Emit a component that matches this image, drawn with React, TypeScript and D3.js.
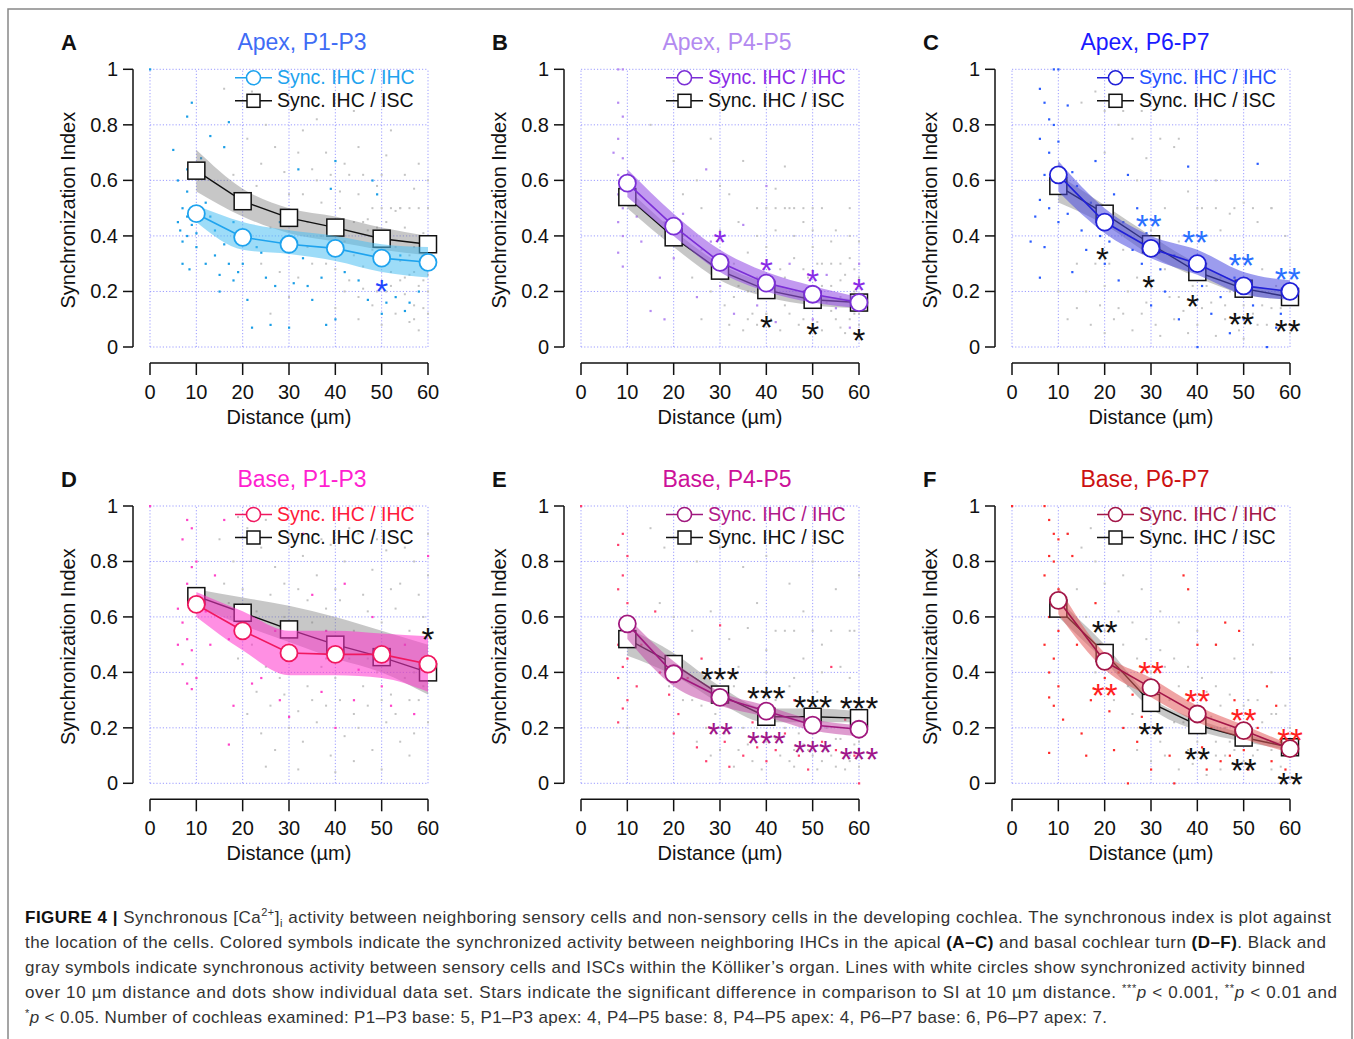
import React from "react";
import * as d3 from "d3";

const distances = [10, 20, 30, 40, 50, 60];
const xTicks = [0, 10, 20, 30, 40, 50, 60];
const yTicks = [0, 0.2, 0.4, 0.6, 0.8, 1];
const yTickLabels = ["0", "0.2", "0.4", "0.6", "0.8", "1"];

const panelLetters = ["A", "B", "C", "D", "E", "F"];
const panelTitles = ["Apex, P1-P3", "Apex, P4-P5", "Apex, P6-P7", "Base, P1-P3", "Base, P4-P5", "Base, P6-P7"];
const legendLabels = ["Sync. IHC / IHC", "Sync. IHC / ISC"];

// Panel A
const A_ihc = [0.48, 0.395, 0.37, 0.355, 0.32, 0.305];
const A_ihcLo = [0.45, 0.35, 0.335, 0.31, 0.27, 0.25];
const A_ihcHi = [0.51, 0.45, 0.42, 0.40, 0.37, 0.36];
const A_isc = [0.635, 0.525, 0.465, 0.43, 0.39, 0.37];
const A_iscLo = [0.56, 0.47, 0.41, 0.38, 0.35, 0.33];
const A_iscHi = [0.71, 0.57, 0.50, 0.47, 0.43, 0.40];
// Panel B
const B_ihc = [0.59, 0.435, 0.305, 0.23, 0.19, 0.16];
const B_ihcLo = [0.54, 0.40, 0.27, 0.20, 0.16, 0.14];
const B_ihcHi = [0.64, 0.48, 0.35, 0.27, 0.22, 0.18];
const B_isc = [0.54, 0.395, 0.275, 0.205, 0.17, 0.16];
const B_iscLo = [0.50, 0.36, 0.24, 0.18, 0.15, 0.14];
const B_iscHi = [0.57, 0.42, 0.30, 0.23, 0.19, 0.17];
// Panel C
const C_ihc = [0.62, 0.45, 0.355, 0.30, 0.22, 0.20];
const C_ihcLo = [0.56, 0.41, 0.32, 0.26, 0.19, 0.17];
const C_ihcHi = [0.67, 0.50, 0.40, 0.35, 0.27, 0.24];
const C_isc = [0.58, 0.48, 0.37, 0.27, 0.21, 0.18];
const C_iscLo = [0.52, 0.44, 0.33, 0.25, 0.19, 0.17];
const C_iscHi = [0.62, 0.51, 0.40, 0.30, 0.23, 0.20];
// Panel D
const D_ihc = [0.645, 0.55, 0.47, 0.465, 0.465, 0.43];
const D_ihcLo = [0.60, 0.48, 0.39, 0.39, 0.38, 0.33];
const D_ihcHi = [0.69, 0.62, 0.55, 0.55, 0.54, 0.53];
const D_isc = [0.675, 0.615, 0.555, 0.50, 0.455, 0.40];
const D_iscLo = [0.64, 0.57, 0.51, 0.45, 0.40, 0.32];
const D_iscHi = [0.70, 0.67, 0.64, 0.60, 0.55, 0.50];
// Panel E
const E_ihc = [0.575, 0.395, 0.31, 0.26, 0.21, 0.195];
const E_ihcLo = [0.52, 0.35, 0.28, 0.24, 0.19, 0.17];
const E_ihcHi = [0.60, 0.44, 0.33, 0.28, 0.23, 0.21];
const E_isc = [0.52, 0.43, 0.32, 0.24, 0.24, 0.235];
const E_iscLo = [0.46, 0.39, 0.29, 0.22, 0.22, 0.22];
const E_iscHi = [0.56, 0.47, 0.35, 0.27, 0.27, 0.26];
// Panel F
const F_ihc = [0.66, 0.44, 0.345, 0.25, 0.19, 0.125];
const F_ihcLo = [0.61, 0.41, 0.31, 0.22, 0.16, 0.11];
const F_ihcHi = [0.71, 0.47, 0.38, 0.28, 0.21, 0.14];
const F_isc = [0.63, 0.47, 0.29, 0.21, 0.165, 0.13];
const F_iscLo = [0.60, 0.44, 0.27, 0.19, 0.15, 0.12];
const F_iscHi = [0.66, 0.50, 0.31, 0.23, 0.18, 0.14];

// Individual data dots (distance, SI)
const A_dotsColor = "0,1;5,0.71;6,0.6;6,0.45;6.5,0.42;7,0.5;7,0.38;7,0.3;8,0.83;8,0.64;8,0.56;8,0.4;8,0.47;8.5,0.28;9,0.88;9,0.5;9,0.44;10,0.41;10,0.36;11,0.68;12,0.52;12,0.3;13,0.76;13,0.47;14,0.42;14,0.33;15,0.26;15,0.2;16,0.72;16,0.37;17,0.81;17,0.3;18,0.45;18,0.24;19,0.27;20,0.3;21,0.17;22,0.07;23,0.36;24,0.34;25,0.25;26,0.08;27,0.22;28,0.45;30,0.07;31,0.23;32,0.64;33,0.32;34,0.22;35,0.17;37,0.25;38,0.08;39,0.57;40,0.67;40,0.1;42,0.27;45,0.24;47,0.17;48,0.6;49,0.55;50,0.12;51,0.16;53,0.18;54,0.33;55,0.13;56,0.16;58,0.2";
const A_dotsGray = "16,0.93;22,0.92;25,0.8;27,0.72;30,0.55;33,0.78;36,0.6;38,0.7;41,0.5;43,0.62;45,0.72;47,0.46;49,0.58;51,0.69;53,0.49;55,0.43;57,0.57;59,0.41;60,0.5;18,0.62;20,0.5;23,0.58;26,0.43;29,0.48;31,0.38;34,0.45;37,0.4;39,0.35;42,0.38;44,0.33;46,0.29;48,0.35;50,0.3;52,0.27;54,0.31;56,0.26;58,0.22;60,0.3;24,0.3;28,0.27;32,0.25;35,0.3;40,0.28;43,0.24;46,0.21;49,0.2;52,0.22;55,0.19;57,0.15;59,0.14;60,0.2;45,0.1;50,0.08;53,0.12;56,0.09;58,0.06;47,0.42;51,0.45;54,0.5;57,0.36;59,0.33;36,0.82;44,0.85;52,0.78;40,0.14;30,0.18;26,0.12;48,0.5;50,0.5;52,0.5;54,0.5;56,0.5;58,0.5;44,0.45;46,0.45;55,0.25;57,0.27;59,0.24;21,0.75;24,0.66;29,0.63;32,0.7;35,0.64;39,0.62;42,0.66;46,0.62;50,0.62;55,0.62;58,0.66;60,0.6;33,0.55;37,0.52;41,0.56;45,0.55;49,0.43;53,0.36;56,0.33;60,0.26;45,0.18;48,0.15;51,0.2;54,0.24;57,0.1;60,0.12;42,0.2;38,0.3;34,0.36";
const B_dotsColor = "8,1;9,1;8,0.88;9,0.83;8,0.75;9,0.68;8,0.62;10,0.6;8,0.55;9,0.5;8,0.45;9,0.4;8,0.34;9,0.29;10,0.52;7,0.7;12,0.47;13,0.38;15,0.13;17,0.25;20,0.32;22,0.48;25,0.18;28,0.38;30,0.22;33,0.12;35,0.44;38,0.15;40,0.58;42,0.09;45,0.3;48,0.2;50,0.1;53,0.26;55,0.14;58,0.07;60,0.3;27,0.64;18,0.1";
const B_dotsGray = "15,0.8;20,0.67;25,0.6;28,0.75;32,0.55;35,0.67;38,0.5;42,0.57;45,0.5;48,0.45;52,0.5;55,0.42;58,0.5;60,0.38;18,0.45;22,0.4;26,0.35;30,0.42;33,0.3;36,0.34;40,0.36;43,0.28;46,0.32;49,0.25;51,0.3;54,0.22;57,0.26;59,0.2;60,0.25;24,0.25;28,0.2;31,0.15;34,0.22;37,0.12;39,0.18;41,0.1;44,0.15;47,0.08;50,0.14;52,0.06;55,0.1;57,0.05;59,0.12;60,0.08;26,0.1;32,0.08;35,0.06;42,0.2;48,0.18;53,0.16;56,0.18;46,0.4;50,0.36;38,0.25;30,0.3;22,0.55;44,0.65;58,0.32;40,0.5;42,0.5;44,0.5;46,0.5;48,0.5;50,0.5;52,0.3;54,0.3;56,0.3;36,0.1;38,0.08;40,0.12;43,0.06;45,0.12;48,0.1;51,0.09;54,0.13;56,0.07;58,0.1;60,0.12;33,0.18;36,0.2;40,0.22;44,0.25;48,0.28;52,0.22;56,0.24;59,0.28;38,0.4;42,0.42;50,0.42;54,0.38;58,0.4;30,0.58;34,0.45;26,0.5";
const C_dotsColor = "9,1;10,1;6,0.93;7,0.88;8,0.82;9,0.8;6,0.75;8,0.7;10,0.74;7,0.62;9,0.56;6,0.53;8,0.5;5,0.47;10,0.45;4,0.38;7,0.36;6,0.25;12,0.87;13,0.63;14,0.58;12,0.48;15,0.42;16,0.35;13,0.27;17,0.52;18,0.67;19,0.4;20,0.3;21,0.38;22,0.55;23,0.24;24,0.45;25,0.62;26,0.35;27,0.5;28,0.3;29,0.41;30,0.15;32,0.28;33,0.2;35,0.33;36,0.1;38,0.65;40,0;41,0.22;43,0.12;45,0.18;47,0.05;48,0.25;50,0.1;52,0.15;53,0.66;55,0;57,0.07;58,0.12";
const C_dotsGray = "10,0.2;12,0.1;15,0.88;18,0.92;20,0.7;23,0.8;26,0.75;29,0.68;32,0.6;35,0.72;38,0.56;41,0.5;44,0.6;47,0.48;50,0.52;53,0.45;56,0.5;59,0.4;60,0.35;16,0.2;19,0.15;22,0.1;25,0.2;28,0.12;31,0.08;34,0.18;37,0.13;40,0.08;43,0.16;46,0.1;49,0.06;52,0.12;55,0.08;58,0.14;60,0.05;24,0.35;30,0.42;36,0.38;42,0.3;48,0.33;54,0.28;57,0.22;45,0.25;39,0.22;33,0.28;27,0.25;21,0.3;18,0.5;50,0.2;14,0.3;20,0.85;24,0.85;28,0.85;32,0.75;36,0.75;40,0.5;44,0.5;48,0.5;52,0.5;56,0.5;46,0.15;50,0.15;54,0.15;17,0.08;20,0.05;23,0.14;26,0.06;29,0.16;32,0.04;35,0.1;38,0.05;41,0.14;44,0.04;47,0.2;50,0.03;53,0.08;56,0.14;59,0.08;20,0.22;24,0.12;30,0.24;36,0.18;42,0.22;48,0.12;54,0.2;58,0.2;14,0.14;18,0.3;27,0.6;33,0.5;45,0.42";
const D_dotsColor = "8,0.95;9,0.92;7,0.88;9,0.78;8,0.72;10,0.8;6,0.63;7,0.58;8,0.52;9,0.48;7,0.43;10,0.38;8,0.36;9,0.34;6,0.5;12,0.62;14,0.75;16,0.95;17,0.52;18,0.28;17,0.14;20,0.58;22,0.36;24,0.38;27,0.55;28,0.3;30,0.24;33,0.9;35,0.68;37,0.33;38,0.55;40,0.2;42,0.72;44,0.3;45,0.41;48,0.6;50,0.35;52,0.28;55,0.5;57,0.25;60,0.82;59,0.44;13,0.5;0,1";
const D_dotsGray = "15,0.88;18,0.8;21,0.92;24,0.85;27,0.78;30,0.9;33,0.82;36,0.75;39,0.86;42,0.8;45,0.9;48,0.77;51,0.84;54,0.72;57,0.8;60,0.75;17,0.65;20,0.7;23,0.62;26,0.68;29,0.6;32,0.7;35,0.58;38,0.63;41,0.66;44,0.55;47,0.62;50,0.58;53,0.63;56,0.55;59,0.6;19,0.45;22,0.5;25,0.42;28,0.38;31,0.45;34,0.35;37,0.42;40,0.38;43,0.45;46,0.35;49,0.4;52,0.32;55,0.38;58,0.3;21,0.25;24,0.18;27,0.12;30,0.2;33,0.15;36,0.22;39,0.1;42,0.17;45,0.2;48,0.12;51,0.22;54,0.15;57,0.18;60,0.22;32,0.05;44,0.08;50,0.05;56,0.1;16,0.72;19,0.96;25,0.95;29,0.72;34,0.66;37,0.88;40,0.7;43,0.92;46,0.68;49,0.88;52,0.7;55,0.85;58,0.68;60,0.9;23,0.33;26,0.28;29,0.32;32,0.26;35,0.3;38,0.28;41,0.3;44,0.25;47,0.28;50,0.3;53,0.25;56,0.3;59,0.35;47,0.45;51,0.48;57,0.4;38,0.45;25,0.06;40,0.04";
const E_dotsColor = "8,0.86;9,0.9;10,0.82;9,0.75;8,0.7;10,0.65;9,0.58;8,0.5;10,0.45;9,0.42;8,0.38;10,0.3;9,0.27;8,0.22;11,0.55;12,0.35;13,0.5;16,0.62;17,0.4;19,0.32;20,0.18;21,0.25;23,0.38;25,0.13;26,0.45;27,0.08;28,0.2;30,0.57;31,0.15;32,0.06;35,0.1;37,0.22;38,0.13;40,0.08;42,0.12;44,0.18;46,0.3;47,0.1;49,0.05;50,0.2;52,0.15;54,0.42;55,0.12;57,0.23;59,0.1;60,0;0,1";
const E_dotsGray = "10,0.2;15,0.92;18,0.85;22,0.9;25,0.8;30,0.85;35,0.78;40,0.82;45,0.72;50,0.8;55,0.7;60,0.75;17,0.65;20,0.6;24,0.55;28,0.62;32,0.52;36,0.56;40,0.48;44,0.55;48,0.45;52,0.5;56,0.42;59,0.55;19,0.35;22,0.3;26,0.28;29,0.25;33,0.35;36,0.28;39,0.33;42,0.3;45,0.35;48,0.3;51,0.33;54,0.3;57,0.28;60,0.3;25,0.15;28,0.1;31,0.18;34,0.12;37,0.08;40,0.15;43,0.1;46,0.06;49,0.12;52,0.08;55,0.06;58,0.1;60,0.15;44,0.2;50,0.18;56,0.16;38,0.2;42,0.55;46,0.55;50,0.55;54,0.55;58,0.55;46,0.12;50,0.1;54,0.1;58,0.08;33,0.06;36,0.14;39,0.05;42,0.16;45,0.08;48,0.14;51,0.05;53,0.12;55,0.16;57,0.05;59,0.14;60,0.06;35,0.2;41,0.22;47,0.18;53,0.2;59,0.18;30,0.12;27,0.2;24,0.3;21,0.45;28,0.38;34,0.42;40,0.4;46,0.38;52,0.4;58,0.38;38,0.65;48,0.62";
const F_dotsColor = "0,1;7,1;8,0.95;9,0.9;10,0.88;8,0.82;9,0.8;7,0.75;10,0.7;9,0.65;8,0.6;10,0.55;7,0.5;9,0.45;8,0.4;10,0.35;8,0.31;9,0.28;8,0.11;11,0.23;12,0.9;13,0.82;14,0.5;15,0.18;16,0.1;17,0.3;18,0.65;19,0.5;20,0.38;21,0.26;22,0.12;23,0.4;24,0.2;25,0;26,0.32;27,0.15;28,0.24;30,0.05;31,0.28;32,0.18;34,0.1;35,0;37,0.75;38,0.7;39,0.3;40,0.5;41,0.13;42,0.05;43,0.2;44,0.5;45,0.08;46,0.58;47,0.1;48,0.3;49,0.55;50,0.12;51,0.05;53,0.2;55,0.35;56,0.08;57,0.28;58,0.15;59,0.05;60,0.1";
const F_dotsGray = "12,0.9;15,0.85;18,0.8;21,0.88;24,0.75;28,0.7;32,0.62;36,0.58;40,0.55;44,0.5;48,0.45;52,0.5;56,0.4;60,0.45;16,0.6;20,0.55;24,0.5;27,0.45;30,0.4;33,0.42;36,0.35;39,0.3;42,0.33;45,0.28;48,0.25;51,0.3;54,0.22;57,0.25;60,0.2;22,0.3;26,0.25;29,0.2;32,0.15;35,0.22;38,0.12;41,0.18;44,0.1;47,0.15;50,0.08;53,0.12;56,0.05;59,0.1;30,0.08;36,0.05;42,0.03;18,0.4;34,0.3;46,0.2;52,0.18;58,0.15;40,0.15;44,0.15;48,0.12;52,0.1;56,0.12;46,0.1;14,0.7;17,0.92;20,0.72;23,0.62;26,0.58;29,0.52;32,0.48;35,0.45;38,0.42;41,0.38;44,0.35;47,0.32;50,0.28;53,0.3;56,0.25;59,0.28;25,0.35;31,0.28;37,0.22;43,0.24;49,0.18;55,0.15;58,0.06;33,0.1;39,0.07;45,0.05;27,0.12";

// Significance stars: [distance, y, text, series]
const A_stars = [[50, 0.225, "*", "ihc"]];
const B_stars = [[30, 0.40, "*", "ihc"], [40, 0.30, "*", "ihc"], [50, 0.26, "*", "ihc"], [60, 0.23, "*", "ihc"], [40, 0.095, "*", "isc"], [50, 0.07, "*", "isc"], [60, 0.05, "*", "isc"]];
const C_stars = [[29.5, 0.46, "**", "ihc"], [39.5, 0.40, "**", "ihc"], [49.5, 0.32, "**", "ihc"], [59.5, 0.27, "**", "ihc"], [19.5, 0.34, "*", "isc"], [29.5, 0.24, "*", "isc"], [39, 0.17, "*", "isc"], [49.5, 0.105, "**", "isc"], [59.5, 0.08, "**", "isc"]];
const D_stars = [[60, 0.545, "*", "isc"]];
const E_stars = [[30, 0.40, "***", "isc"], [40, 0.33, "***", "isc"], [50, 0.30, "***", "isc"], [60, 0.295, "***", "isc"], [30, 0.20, "**", "ihc"], [40, 0.17, "***", "ihc"], [50, 0.135, "***", "ihc"], [60, 0.11, "***", "ihc"]];
const F_stars = [[20, 0.57, "**", "isc"], [30, 0.20, "**", "isc"], [40, 0.11, "**", "isc"], [50, 0.07, "**", "isc"], [60, 0.02, "**", "isc"], [20, 0.34, "**", "ihc"], [30, 0.42, "**", "ihc"], [40, 0.32, "**", "ihc"], [50, 0.25, "**", "ihc"], [60, 0.18, "**", "ihc"]];

const panelData = [
  { ihc: A_ihc, ihcLo: A_ihcLo, ihcHi: A_ihcHi, isc: A_isc, iscLo: A_iscLo, iscHi: A_iscHi, dc: A_dotsColor, dg: A_dotsGray, stars: A_stars },
  { ihc: B_ihc, ihcLo: B_ihcLo, ihcHi: B_ihcHi, isc: B_isc, iscLo: B_iscLo, iscHi: B_iscHi, dc: B_dotsColor, dg: B_dotsGray, stars: B_stars },
  { ihc: C_ihc, ihcLo: C_ihcLo, ihcHi: C_ihcHi, isc: C_isc, iscLo: C_iscLo, iscHi: C_iscHi, dc: C_dotsColor, dg: C_dotsGray, stars: C_stars },
  { ihc: D_ihc, ihcLo: D_ihcLo, ihcHi: D_ihcHi, isc: D_isc, iscLo: D_iscLo, iscHi: D_iscHi, dc: D_dotsColor, dg: D_dotsGray, stars: D_stars },
  { ihc: E_ihc, ihcLo: E_ihcLo, ihcHi: E_ihcHi, isc: E_isc, iscLo: E_iscLo, iscHi: E_iscHi, dc: E_dotsColor, dg: E_dotsGray, stars: E_stars },
  { ihc: F_ihc, ihcLo: F_ihcLo, ihcHi: F_ihcHi, isc: F_isc, iscLo: F_iscLo, iscHi: F_iscHi, dc: F_dotsColor, dg: F_dotsGray, stars: F_stars },
];

const panelStyles = [
  { title: "#3f6cf5", legend: "#1ea3ee", line: "#1ea3ee", band: "#4cc0f3", bandOp: 0.55, dot: "#1a9ee6", star: "#1f45ff", titleDx: 152 },
  { title: "#b38af0", legend: "#8a2be6", line: "#7b2fd6", band: "#9a55e6", bandOp: 0.6, dot: "#b68af2", star: "#8a2be6", titleDx: 146 },
  { title: "#1a1aff", legend: "#2450ff", line: "#2020d8", band: "#4a4ae0", bandOp: 0.55, dot: "#2a5cff", star: "#2a70ff", titleDx: 133 },
  { title: "#ff1fd0", legend: "#ff1a3a", line: "#f01860", band: "#ff33cc", bandOp: 0.55, dot: "#ff44c8", star: "#111", titleDx: 152 },
  { title: "#cc1199", legend: "#b0188a", line: "#a0187e", band: "#c24aa8", bandOp: 0.55, dot: "#ff3f6e", star: "#a0168a", titleDx: 146 },
  { title: "#cc1111", legend: "#a31648", line: "#a31648", band: "#e45a5a", bandOp: 0.55, dot: "#ff2a2a", star: "#ff2020", titleDx: 133 },
];

const FONT = "'Liberation Sans', Arial, Helvetica, sans-serif";

function parsePts(s: string): [number, number][] {
  return s.split(";").map((p) => {
    const [a, b] = p.split(",");
    return [parseFloat(a), parseFloat(b)] as [number, number];
  });
}

function Panel({ idx }: { idx: number }) {
  const col = idx % 3;
  const row = Math.floor(idx / 3);
  const d = panelData[idx];
  const st = panelStyles[idx];
  const x0 = 150 + col * 431;
  const yTop = row === 0 ? 69.3 : 506;
  const yBot = row === 0 ? 347 : 783.3;
  const x = d3.scaleLinear().domain([0, 60]).range([x0, x0 + 278]);
  const y = d3.scaleLinear().domain([0, 1]).range([yBot, yTop]);

  const band = (lo: number[], hi: number[]) =>
    d3.area<number>().x((_, i) => x(distances[i])).y0((_, i) => y(lo[i])).y1((_, i) => y(hi[i])).curve(d3.curveMonotoneX)(distances) || "";
  const line = (v: number[]) => d3.line<number>().x((_, i) => x(distances[i])).y((_, i) => y(v[i]))(distances) || "";

  const gray = parsePts(d.dg);
  const colored = parsePts(d.dc);
  const sq = 17;
  const r = 8.5;
  const grid = "#9c9cff";
  const axisX = x0 - 17;
  const axisY = yBot + 16;
  const legX = x0 + 85;
  const legY1 = yTop + 15;
  const legY2 = yTop + 38;
  const starFs = 33;

  return (
    <g>
      {xTicks.map((t) => (
        <line key={"gx" + t} x1={x(t)} x2={x(t)} y1={y(0)} y2={y(1)} stroke={grid} strokeWidth={1} strokeDasharray="1.2,2" />
      ))}
      {yTicks.map((t) => (
        <line key={"gy" + t} x1={x(0)} x2={x(60)} y1={y(t)} y2={y(t)} stroke={grid} strokeWidth={1} strokeDasharray="1.2,2" />
      ))}
      {gray.map((p, i) => (
        <rect key={"g" + i} x={x(p[0]) - 1} y={y(p[1]) - 1} width={2} height={2} fill="#c4c4c4" />
      ))}
      {colored.map((p, i) => (
        <rect key={"c" + i} x={x(p[0]) - 1} y={y(p[1]) - 1} width={2.2} height={2.2} fill={st.dot} />
      ))}
      <path d={band(d.iscLo, d.iscHi)} fill="#7a7a7a" fillOpacity={0.42} />
      <path d={line(d.isc)} fill="none" stroke="#111" strokeWidth={1.4} />
      {d.isc.map((v, i) => (
        <rect key={"s" + i} x={x(distances[i]) - sq / 2} y={y(v) - sq / 2} width={sq} height={sq} fill="#fff" stroke="#111" strokeWidth={1.5} />
      ))}
      <path d={band(d.ihcLo, d.ihcHi)} fill={st.band} fillOpacity={st.bandOp} />
      <path d={line(d.ihc)} fill="none" stroke={st.line} strokeWidth={1.6} />
      {d.ihc.map((v, i) => (
        <circle key={"o" + i} cx={x(distances[i])} cy={y(v)} r={r} fill="#fff" stroke={st.line} strokeWidth={1.8} />
      ))}
      {d.stars.map((s: any, i: number) => (
        <text key={"st" + i} x={x(s[0])} y={y(s[1]) + starFs * 0.56} textAnchor="middle" fontFamily={FONT} fontSize={starFs}
          fill={s[3] === "ihc" ? st.star : "#111"}>{s[2]}</text>
      ))}
      <line x1={legX} x2={legX + 37} y1={legY1 - 6.5} y2={legY1 - 6.5} stroke={st.line} strokeWidth={1.5} />
      <circle cx={legX + 18.5} cy={legY1 - 6.5} r={7} fill="#fff" stroke={st.line} strokeWidth={1.6} />
      <text x={x0 + 127} y={legY1} fontFamily={FONT} fontSize={19.5} fill={st.legend}>{legendLabels[0]}</text>
      <line x1={legX} x2={legX + 37} y1={legY2 - 6.5} y2={legY2 - 6.5} stroke="#111" strokeWidth={1.5} />
      <rect x={legX + 12} y={legY2 - 13} width={13} height={13} fill="#fff" stroke="#111" strokeWidth={1.5} />
      <text x={x0 + 127} y={legY2} fontFamily={FONT} fontSize={19.5} fill="#111">{legendLabels[1]}</text>
      <line x1={axisX} x2={axisX} y1={y(1)} y2={y(0)} stroke="#111" strokeWidth={1.5} />
      {yTicks.map((t, i) => (
        <g key={"yt" + t}>
          <line x1={axisX - 10} x2={axisX} y1={y(t)} y2={y(t)} stroke="#111" strokeWidth={1.5} />
          <text x={x0 - 32} y={y(t) + 7} textAnchor="end" fontFamily={FONT} fontSize={20} fill="#111">{yTickLabels[i]}</text>
        </g>
      ))}
      <text transform={`translate(${x0 - 75},${(y(0) + y(1)) / 2 + 2}) rotate(-90)`} textAnchor="middle" fontFamily={FONT} fontSize={20} fill="#111">Synchronization Index</text>
      <line x1={x(0)} x2={x(60)} y1={axisY} y2={axisY} stroke="#111" strokeWidth={1.5} />
      {xTicks.map((t) => (
        <g key={"xt" + t}>
          <line x1={x(t)} x2={x(t)} y1={axisY} y2={axisY + 12} stroke="#111" strokeWidth={1.5} />
          <text x={x(t)} y={yBot + 52} textAnchor="middle" fontFamily={FONT} fontSize={20} fill="#111">{t}</text>
        </g>
      ))}
      <text x={x(30)} y={yBot + 77} textAnchor="middle" fontFamily={FONT} fontSize={20} fill="#111">Distance (µm)</text>
      <text x={x0 + st.titleDx} y={yTop - 19} textAnchor="middle" fontFamily={FONT} fontSize={23} fill={st.title}>{panelTitles[idx]}</text>
      <text x={x0 - 89} y={yTop - 19} fontFamily={FONT} fontSize={22} fontWeight="bold" fill="#111">{panelLetters[idx]}</text>
    </g>
  );
}

export default function App() {
  const cap = { fontFamily: FONT, fontSize: 17, fill: "#333" };
  return (
    <svg width={1354} height={1039} style={{ position: "absolute", left: 0, top: 0, display: "block", background: "#fff" }}>
      <rect x={0} y={0} width={1354} height={1039} fill="#fff" />
      <rect x={8} y={9} width={1344} height={1050} fill="none" stroke="#888" strokeWidth={1.5} />
      {[0, 1, 2, 3, 4, 5].map((i) => (
        <Panel key={i} idx={i} />
      ))}
      <text x={25} y={923} {...cap} textLength={1306} lengthAdjust="spacing">
        <tspan fontWeight="bold" fill="#111">FIGURE 4 | </tspan>Synchronous [Ca<tspan dy={-7} fontSize={11}>2+</tspan><tspan dy={7}>]</tspan><tspan dy={4} fontSize={11}>i</tspan><tspan dy={-4}> activity between neighboring sensory cells and non-sensory cells in the developing cochlea. The synchronous index is plot against</tspan>
      </text>
      <text x={25} y={948} {...cap} textLength={1301} lengthAdjust="spacing">
        the location of the cells. Colored symbols indicate the synchronized activity between neighboring IHCs in the apical <tspan fontWeight="bold" fill="#111">(A–C)</tspan> and basal cochlear turn <tspan fontWeight="bold" fill="#111">(D–F)</tspan>. Black and
      </text>
      <text x={25} y={973} {...cap} textLength={1280} lengthAdjust="spacing">
        gray symbols indicate synchronous activity between sensory cells and ISCs within the Kölliker’s organ. Lines with white circles show synchronized activity binned
      </text>
      <text x={25} y={998} {...cap} textLength={1312} lengthAdjust="spacing">
        over 10 µm distance and dots show individual data set. Stars indicate the significant difference in comparison to SI at 10 µm distance. <tspan fontSize={11} dy={-6}>***</tspan><tspan dy={6} fontStyle="italic">p</tspan> &lt; 0.001, <tspan fontSize={11} dy={-6}>**</tspan><tspan dy={6} fontStyle="italic">p</tspan> &lt; 0.01 and
      </text>
      <text x={25} y={1023} {...cap} textLength={1082} lengthAdjust="spacing">
        <tspan fontSize={11} dy={-6}>*</tspan><tspan dy={6} fontStyle="italic">p</tspan> &lt; 0.05. Number of cochleas examined: P1–P3 base: 5, P1–P3 apex: 4, P4–P5 base: 8, P4–P5 apex: 4, P6–P7 base: 6, P6–P7 apex: 7.
      </text>
    </svg>
  );
}
